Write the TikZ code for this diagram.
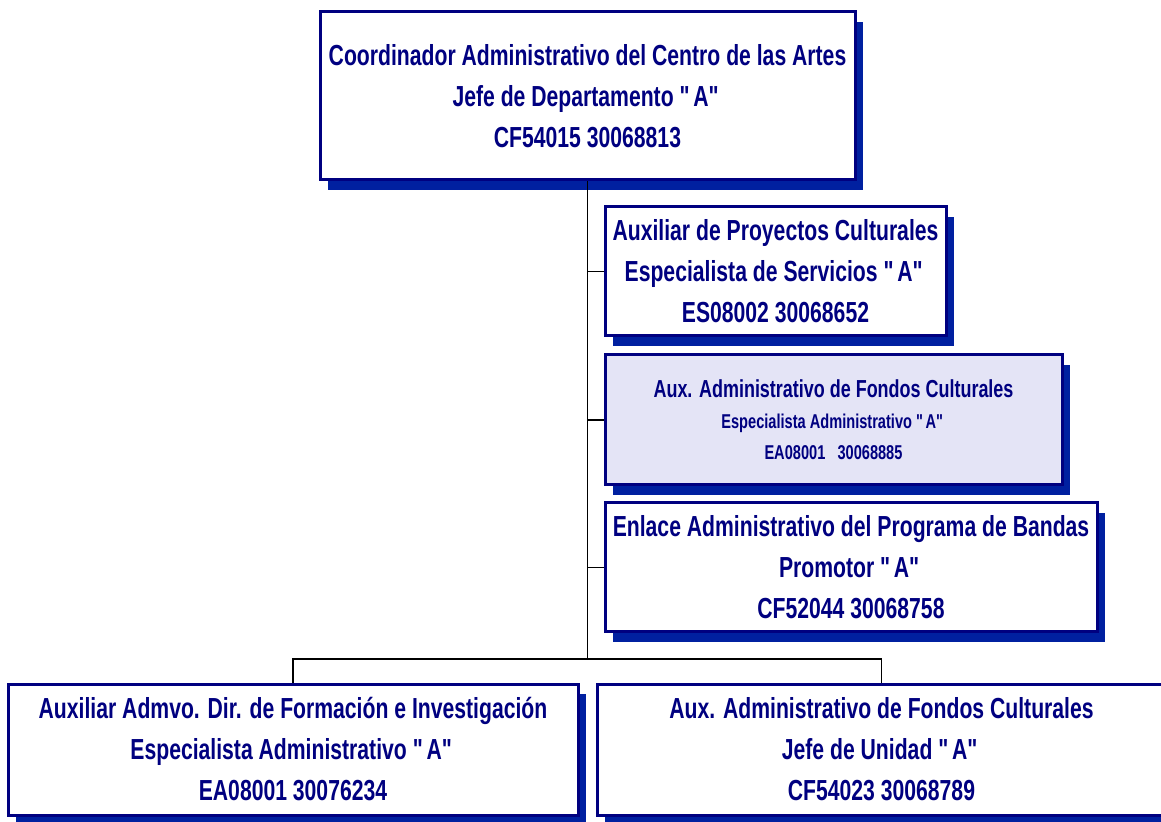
\documentclass[tikz,border=0pt]{standalone}
\usepackage{fontspec}
\setmainfont{Liberation Sans}[FakeStretch=0.73]
\usetikzlibrary{shadows}
\definecolor{navy}{RGB}{0,0,128}
\definecolor{shade}{RGB}{0,32,160}
\definecolor{lila}{RGB}{228,228,246}
\newcommand{\puesto}{\fontsize{14.5}{20.5}\selectfont\bfseries}
\newcommand{\medio}{\fontsize{12.3}{15.5}\selectfont\bfseries}
\newcommand{\chico}{\fontsize{10}{15.5}\selectfont\bfseries}
\newcommand{\cat}[1]{\textquotedbl#1\textquotedbl}

\begin{document}
\begin{tikzpicture}[x=0.5pt,y=-0.5pt,
   caja/.style={draw=navy,line width=1.5pt,fill=white,text=navy,align=center,inner sep=0pt,
      drop shadow={shadow xshift=4pt,shadow yshift=-5pt,fill=shade,opacity=1},font=\puesto},
   linea/.style={line width=0.75pt}]
   \useasboundingbox[fill=white] (0,0) rectangle (1161,822);
   \node[caja,minimum width=267.5pt,minimum height=84pt] (jefe) at (587.5,96)
      {Coordinador Administrativo del Centro de las Artes\\Jefe de Departamento \cat{A}\\CF54015 30068813};
   \node[caja,minimum width=170.5pt,minimum height=64.5pt] (proyectos) at (775.5,271.5)
      {Auxiliar de Proyectos Culturales\\Especialista de Servicios \cat{A}\\ES08002 30068652};
   \node[caja,fill=lila,font=\chico,minimum width=228.5pt,minimum height=65pt] (fondos) at (833.5,420)
      {{\medio Aux. Administrativo de Fondos Culturales}\\Especialista Administrativo \cat{A}\\EA08001\ \ \ 30068885};
   \node[caja,minimum width=246pt,minimum height=64.5pt] (bandas) at (851,567.5)
      {Enlace Administrativo del Programa de Bandas\\Promotor \cat{A}\\CF52044 30068758};
   \node[caja,minimum width=285pt,minimum height=65.5pt] (formacion) at (293,749.5)
      {Auxiliar Admvo. Dir. de Formación e Investigación\\Especialista Administrativo \cat{A}\\EA08001 30076234};
   \node[caja,minimum width=284.5pt,minimum height=65.5pt] (unidad) at (881.5,749.5)
      {Aux. Administrativo de Fondos Culturales\\Jefe de Unidad \cat{A}\\CF54023 30068789};
   % lineas de mando
   \coordinate (rama) at (587.5,659);
   \draw[linea] (jefe.south) -- (rama);
   \draw[linea] (rama) -| (formacion.north);
   \draw[linea] (rama) -| (unidad.north);
   \foreach \n in {proyectos,fondos,bandas}
      \draw[linea] (\n.west) -- (\n.west -| rama);
\end{tikzpicture}
\end{document}
